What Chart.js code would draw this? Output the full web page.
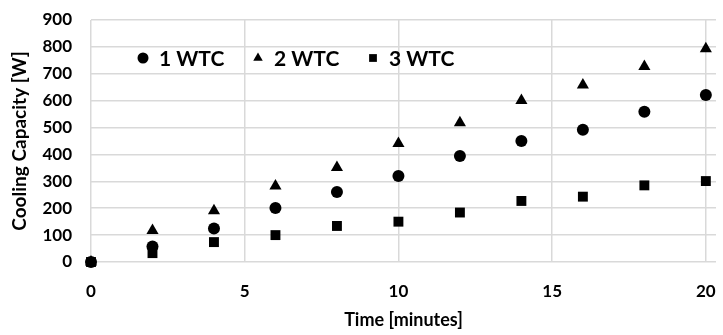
<!DOCTYPE html>
<html>
<head>
<meta charset="utf-8">
<script src="https://cdn.jsdelivr.net/npm/chart.js@4"></script>
<style>
  html, body { margin: 0; padding: 0; background: #fff; }
  #wrap { width: 723px; height: 335px; }
</style>
</head>
<body>
<div id="wrap"><canvas id="chart" width="723" height="335"></canvas></div>
<script>
const times = [0, 2, 4, 6, 8, 10, 12, 14, 16, 18, 20];
const wtc1 = [0, 58, 125, 201, 260, 320, 394, 450, 492, 559, 621];
const wtc2 = [0, 117, 191, 283, 351, 441, 518, 601, 658, 727, 793];
const wtc3 = [0, 33, 74, 100, 134, 150, 184, 227, 243, 285, 301];
const seriesNames = ['1 WTC', '2 WTC', '3 WTC'];
const xTicks = [0, 5, 10, 15, 20];

const FONT = 'Lato, "Liberation Sans", sans-serif';

function toPoints(vals) {
  return times.map((t, i) => ({ x: t, y: vals[i] }));
}

// legend sits inside the plot, one row
const innerLegend = {
  id: 'innerLegend',
  afterDatasetsDraw(chart) {
    const ctx = chart.ctx;
    const area = chart.chartArea;
    const y = area.top + 38;
    let x = area.left + 52;
    ctx.save();
    ctx.font = 'bold 21px ' + FONT;
    ctx.textBaseline = 'middle';
    ctx.fillStyle = '#000';
    chart.data.datasets.forEach((ds, i) => {
      Chart.helpers.drawPoint(ctx, { pointStyle: ds.pointStyle, radius: 5.5, borderWidth: 0 }, x, y);
      ctx.fillText(seriesNames[i], x + 16, y + 1);
      x += 115;
    });
    ctx.restore();
  }
};

const common = { showLine: false, clip: false, backgroundColor: '#000', borderColor: '#000', borderWidth: 0, pointHoverRadius: 7 };

new Chart(document.getElementById('chart'), {
  type: 'scatter',
  data: {
    datasets: [
      { ...common, label: seriesNames[0], data: toPoints(wtc1), pointStyle: 'circle', pointRadius: 6 },
      { ...common, label: seriesNames[1], data: toPoints(wtc2), pointStyle: 'triangle', pointRadius: 7 },
      { ...common, label: seriesNames[2], data: toPoints(wtc3), pointStyle: 'rect', pointRadius: 7 }
    ]
  },
  options: {
    responsive: false,
    animation: false,
    layout: { padding: { left: 8, right: 0, top: 20, bottom: 4 } },
    plugins: { legend: { display: false }, tooltip: { enabled: false } },
    scales: {
      x: {
        type: 'linear',
        min: 0,
        max: 20.33,
        afterBuildTicks: axis => { axis.ticks = xTicks.map(v => ({ value: v })); },
        afterFit: axis => { axis.height = 69; axis.paddingLeft = 0; axis.paddingRight = 0; },
        grid: { color: '#d9d9d9', lineWidth: 1.5, drawTicks: false },
        border: { display: false },
        ticks: { color: '#000', padding: 19, font: { family: FONT, size: 17, weight: 'bold' } },
        title: { display: true, text: 'Time [minutes]', color: '#000', padding: { top: 4, bottom: 0 }, font: { family: FONT, size: 18, weight: 'bold' } }
      },
      y: {
        min: 0,
        max: 900,
        afterFit: axis => { axis.width = 83; axis.paddingTop = 0; axis.paddingBottom = 0; },
        ticks: { stepSize: 100, color: '#000', padding: 19, font: { family: FONT, size: 17, weight: 'bold' } },
        grid: { color: '#d9d9d9', lineWidth: 1.5, drawTicks: false },
        border: { display: false },
        title: { display: true, text: 'Cooling Capacity [W]', color: '#000', padding: { top: 0, bottom: 2 }, font: { family: FONT, size: 19, weight: 'bold' } }
      }
    }
  },
  plugins: [innerLegend]
});
</script>
</body>
</html>
